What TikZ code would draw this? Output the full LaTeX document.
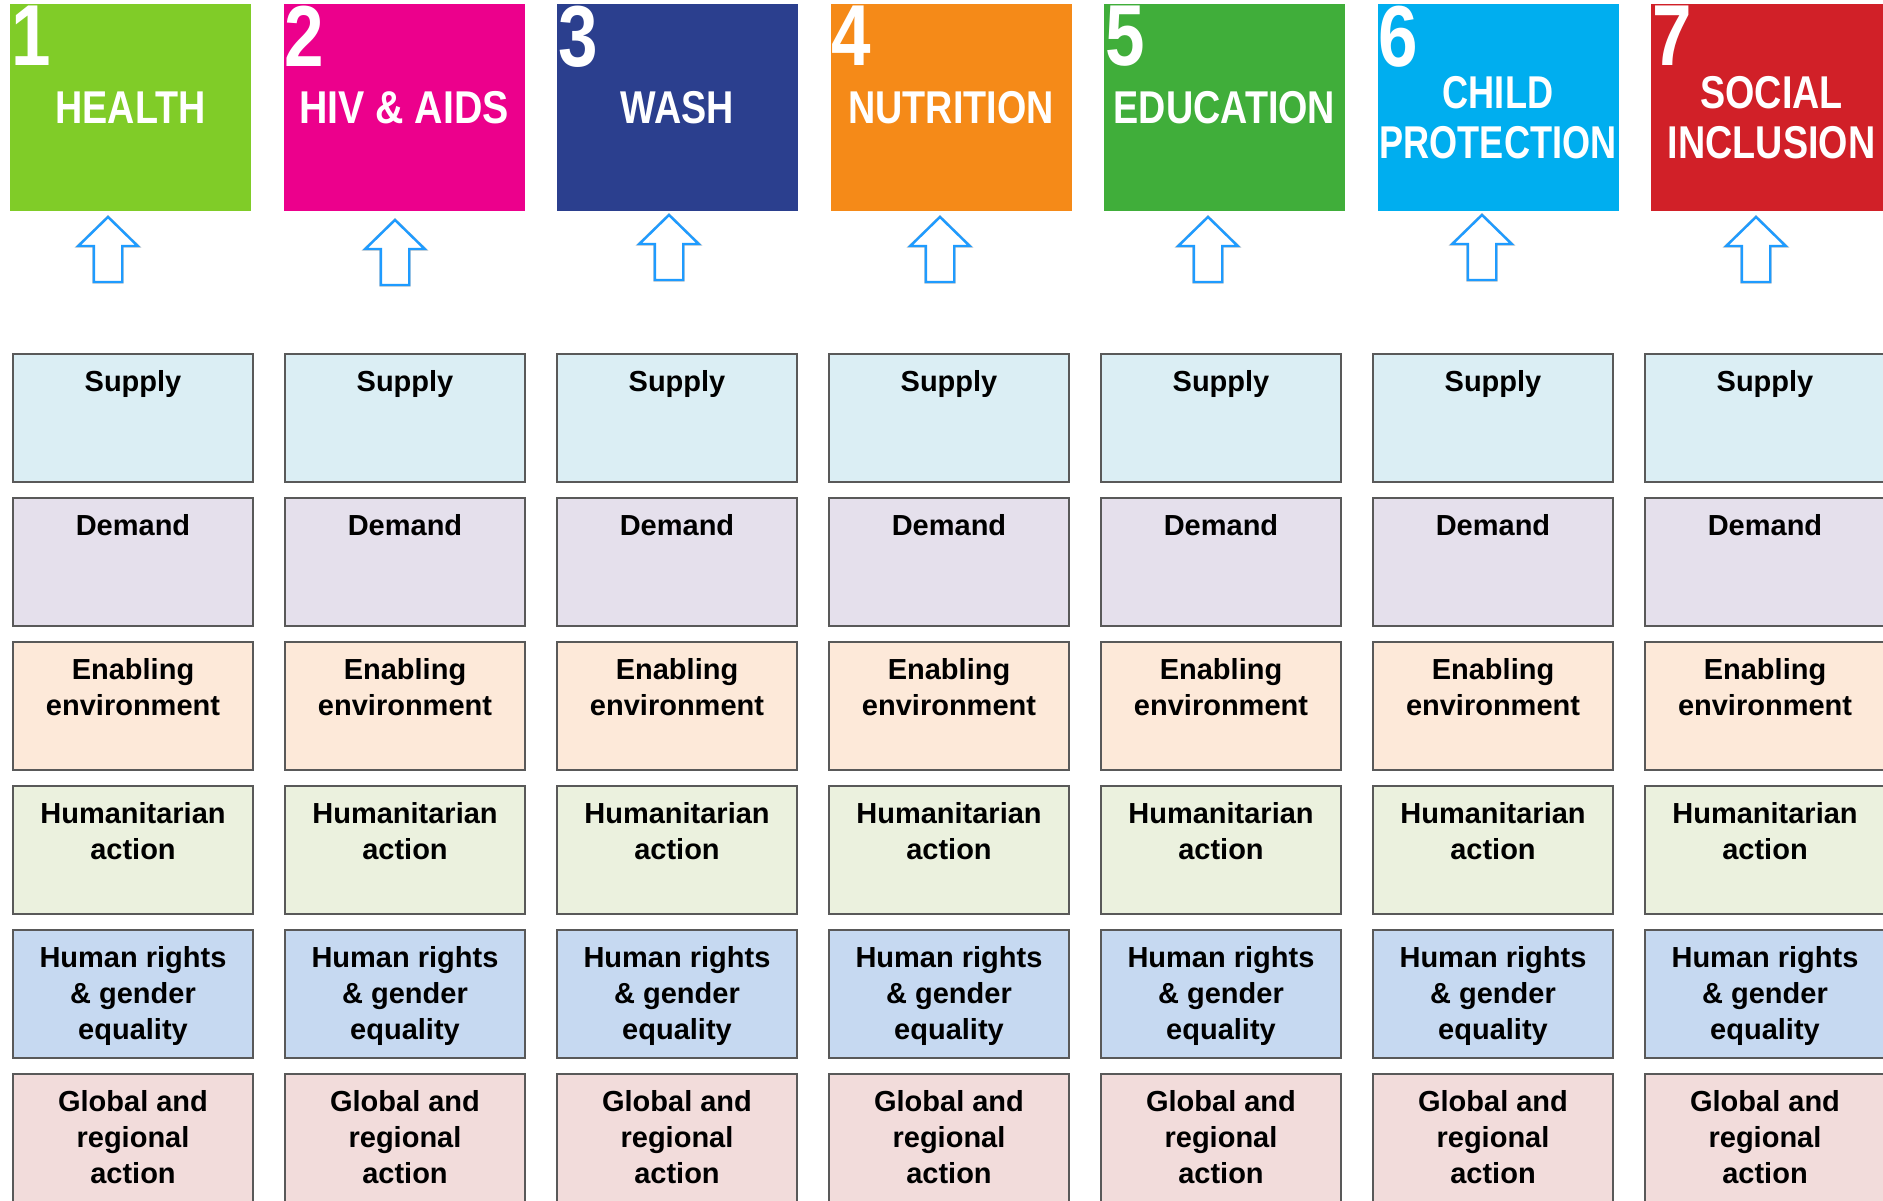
\documentclass[tikz,border=0pt]{standalone}
\usepackage{fontspec}
\setmainfont{Liberation Sans}
\newfontfamily\condfont[FakeStretch=0.82]{Liberation Sans}
\newfontfamily\condnarrow[FakeStretch=0.785]{Liberation Sans}
\newfontfamily\condwide[FakeStretch=0.855]{Liberation Sans}
\definecolor{cHealth}{HTML}{80CC28}
\definecolor{cHiv}{HTML}{EC008C}
\definecolor{cWash}{HTML}{2B3F8E}
\definecolor{cNutri}{HTML}{F58A18}
\definecolor{cEdu}{HTML}{40AE3A}
\definecolor{cChild}{HTML}{00AEEF}
\definecolor{cSocial}{HTML}{D12028}
\definecolor{fSupply}{HTML}{DBEEF4}
\definecolor{fDemand}{HTML}{E5E0EC}
\definecolor{fEnabling}{HTML}{FDE9D9}
\definecolor{fHuman}{HTML}{EBF1DE}
\definecolor{fRights}{HTML}{C6D9F1}
\definecolor{fGlobal}{HTML}{F2DCDB}
\definecolor{cellborder}{HTML}{595959}
\definecolor{arrowblue}{HTML}{1E9BFF}
\tikzset{
  hdrbox/.style={draw=none, inner sep=0pt, minimum width=241pt, minimum height=207pt},
  hdrtext/.style={text=white, font=\condfont\bfseries\fontsize{46}{49.5}\selectfont, align=center, inner sep=0pt, anchor=north},
  hdrnum/.style={text=white, font=\condfont\bfseries\fontsize{86.6}{86.6}\selectfont, inner sep=0pt, anchor=north west},
  cell/.style={draw=cellborder, line width=1.5pt, minimum width=240pt, minimum height=128pt, inner sep=0pt},
  celltext/.style={font=\bfseries\fontsize{29}{35.8}\selectfont, align=center, inner sep=0pt, anchor=north},
  uparrow/.style={draw=arrowblue, line width=2.4pt, fill=white, line join=miter},
  arrowshadow/.style={fill=black, draw=black, line width=3pt, opacity=0.06},
}
\newcommand\arrowpath[1]{(#1) -- ++(29.7,29) -- ++(-15.5,0) -- ++(0,36) -- ++(-28.4,0) -- ++(0,-36) -- ++(-15.5,0) -- cycle}
\newcommand\drawuparrow[1]{%
  \foreach \sx/\sy in {1/2,2/4,3/6,2/8}{%
    \path[arrowshadow, shift={(\sx,\sy)}] \arrowpath{#1};
  }%
  \draw[uparrow] \arrowpath{#1};
}
\begin{document}
\begin{tikzpicture}[x=1pt,y=-1pt]
\useasboundingbox (0,0) rectangle (1883,1200);
\clip (0,0) rectangle (1883,1200);
\fill[white] (0,0) rectangle (1883,1200);

% header boxes
\foreach \k/\col/\num in {1/cHealth/1,2/cHiv/2,3/cWash/3,4/cNutri/4,5/cEdu/5,6/cChild/6,7/cSocial/7}{
  \node[hdrbox, fill=\col] (h\k) at ({130.5+273.5*(\k-1)},107.5) {};
  \node[hdrnum] (n\k) at ([xshift=1pt,yshift=-2pt]h\k.north west) {\num};
}
\node[hdrtext] (ht1) at ([yshift=-87.5pt]h1.north) {HEALTH};
\node[hdrtext, font=\condwide\bfseries\fontsize{46}{49.5}\selectfont] (ht2) at ([yshift=-87.5pt]h2.north) {HIV \& AIDS};
\node[hdrtext] (ht3) at ([yshift=-87.5pt]h3.north) {WASH};
\node[hdrtext] (ht4) at ([yshift=-87.5pt]h4.north) {NUTRITION};
\node[hdrtext] (ht5) at ([yshift=-87.5pt]h5.north) {EDUCATION};
\node[hdrtext, font=\condnarrow\bfseries\fontsize{46}{49.5}\selectfont] (ht6) at ([yshift=-72.5pt]h6.north) {CHILD\\PROTECTION};
\node[hdrtext] (ht7) at ([yshift=-72.5pt]h7.north) {SOCIAL\\INCLUSION};

% arrows
\coordinate (a1) at (108,217);
\coordinate (a2) at (395,220);
\coordinate (a3) at (669,215);
\coordinate (a4) at (940,217);
\coordinate (a5) at (1208,217);
\coordinate (a6) at (1482,215);
\coordinate (a7) at (1756,217);
\foreach \k in {1,...,7}{\drawuparrow{a\k}}

% grid of cells
\foreach \k in {1,...,7}{
  \foreach \r/\fc/\txt in {1/fSupply/{Supply},2/fDemand/{Demand},3/fEnabling/{Enabling\\environment},4/fHuman/{Humanitarian\\action},5/fRights/{Human rights\\\& gender\\equality},6/fGlobal/{Global and\\regional\\action}}{
    \node[cell, fill=\fc] (c\k\r) at ({133+272*(\k-1)},{418+144*(\r-1)}) {};
    \node[celltext] (t\k\r) at ([yshift=-17.5pt]c\k\r.north) {\txt};
  }
}
\end{tikzpicture}
\end{document}
